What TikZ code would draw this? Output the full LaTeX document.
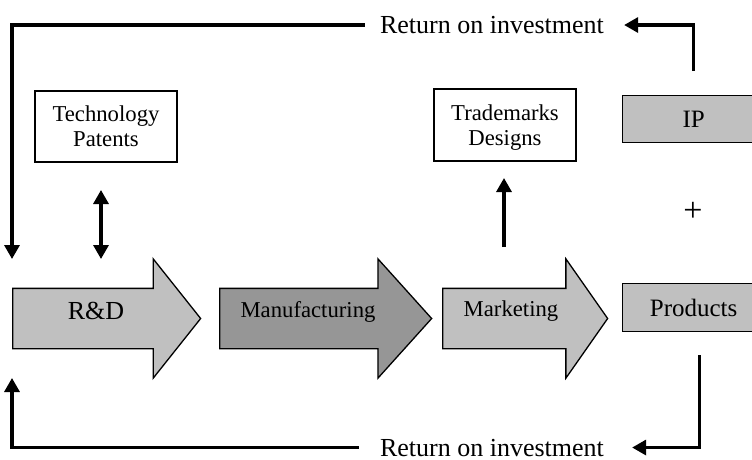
\documentclass[tikz,border=0pt]{standalone}
\usepackage{fontspec}
\setmainfont{Liberation Serif}
\usetikzlibrary{positioning}
\usetikzlibrary{arrows.meta}
\usetikzlibrary{shapes.arrows}
\usetikzlibrary{calc}

\definecolor{lightgrey}{HTML}{C0C0C0}
\definecolor{midgrey}{HTML}{969696}

\tikzset{
	stage/.style={single arrow, draw, line width=1.3pt, fill=#1,
		single arrow head extend=29.5pt, inner xsep=0pt, inner ysep=29.5pt, anchor=tail},
	bigtxt/.style={inner sep=0pt, font=\fontsize{26}{28}\selectfont},
	midtxt/.style={inner sep=0pt, font=\fontsize{22.7}{25}\selectfont},
	plainbox/.style={draw, line width=1.3pt, fill=white, align=center, text depth=0pt,
		inner sep=0pt, font=\fontsize{22.7}{25}\selectfont},
	greybox/.style={draw, line width=1.3pt, fill=lightgrey, inner sep=0pt,
		font=\fontsize{25}{28}\selectfont},
	flow/.style={line width=3.2pt, -{Triangle[length=14pt,width=15pt]}},
	twoway/.style={line width=3.2pt, {Triangle[length=14pt,width=15pt]}-{Triangle[length=14pt,width=15pt]}}
}

\begin{document}
\begin{tikzpicture}[x=1pt, y=-1pt]
	\useasboundingbox (0,0) rectangle (752,459);
	\clip (0,0) rectangle (752,459);

	% Stages
	\node[stage=lightgrey, minimum height=188pt, single arrow tip angle=103] (rd) at (12,318.5) {};
	\node[stage=midgrey, minimum height=212pt, single arrow tip angle=96] (manu) at (219,318.5) {};
	\node[stage=lightgrey, minimum height=165pt, single arrow tip angle=110] (mark) at (442,318.5) {};

	\node[bigtxt, anchor=base] (rdlabel) at (96,319) {R\&D};
	\node[midtxt, anchor=base] (manulabel) at (308,317) {Manufacturing};
	\node[midtxt, anchor=base] (marklabel) at (511,316) {Marketing};

	% Boxes
	\node[plainbox, minimum width=142pt, minimum height=71pt] (tech) at (106,126.5) {Technology\\Patents};
	\node[plainbox, minimum width=142pt, minimum height=72pt] (tm) at (505,125) {Trademarks\\Designs};
	\node[greybox, minimum width=142pt, minimum height=47pt, anchor=north west] (ip) at (622,95) {IP};
	\node[greybox, minimum width=142pt, minimum height=48pt, anchor=north west] (prod) at (622,283) {Products};
	\node[inner sep=0pt, font=\fontsize{34}{36}\selectfont] (plus) at (693,212) {+};

	% Return on investment
	\node[bigtxt, anchor=base] (roitop) at (492,33.5) {Return on investment};
	\node[bigtxt, anchor=base] (roibot) at (492,456) {Return on investment};

	\coordinate (ipout) at ($(ip.north)+(0,-24)$);
	\coordinate (prodout) at ($(prod.south)+(6,23)$);
	\coordinate (rdin) at (12,259);
	\coordinate (rdback) at (12,378);
	\coordinate (techlink) at (101,190);
	\coordinate (rdlink) at (101,259);
	\coordinate (markout) at (504,247);
	\coordinate (tmin) at (504,178);

	\draw[flow, shorten >=20pt] (ipout) |- (roitop);
	\draw[flow, shorten <=15pt] (roitop) -| (rdin);
	\draw[flow, shorten >=28pt] (prodout) |- (roibot);
	\draw[flow, shorten <=21pt] (roibot) -| (rdback);

	\draw[twoway] (techlink) -- (rdlink);
	\draw[flow] (markout) -- (tmin);
\end{tikzpicture}
\end{document}
